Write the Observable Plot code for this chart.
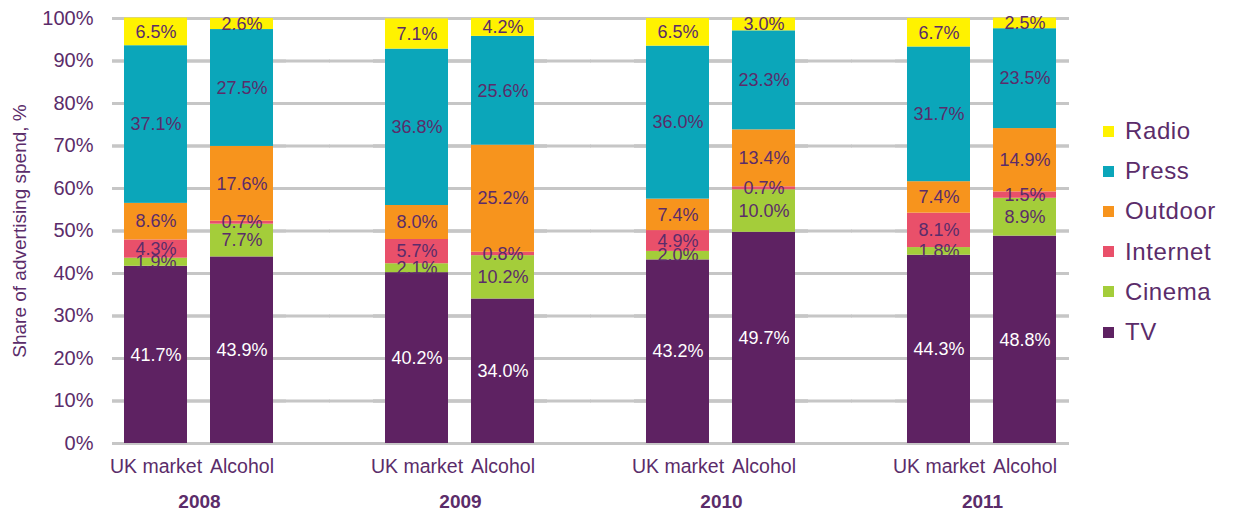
<!DOCTYPE html>
<html>
<head>
<meta charset="utf-8">
<script src="https://cdn.jsdelivr.net/npm/d3@7"></script>
<script src="https://cdn.jsdelivr.net/npm/@observablehq/plot@0.6"></script>
<style>
  body { margin: 0; background: #fff; font-family: "Liberation Sans", Arial, sans-serif; }
  #wrap { position: relative; width: 1233px; height: 515px; }
  #legend { position: absolute; left: 1103px; top: 111px; }
  .item { height: 40.2px; display: flex; align-items: center; font-size: 24px; color: #5b2c6a; letter-spacing: 0.6px; }
  .sw { width: 11px; height: 11px; margin-right: 11px; }
</style>
</head>
<body>
<div id="wrap"><div id="legend"></div></div>
<script>
const years = ["2008", "2009", "2010", "2011"];
const markets = ["UK market", "Alcohol"];
const media = ["TV", "Cinema", "Internet", "Outdoor", "Press", "Radio"];
const colors = ["#5e2262", "#a4cd3a", "#e9506a", "#f7941d", "#0ba6ba", "#fff200"];
const legendOrder = ["Radio", "Press", "Outdoor", "Internet", "Cinema", "TV"];

// Column order: 2008 UK, 2008 Alcohol, 2009 UK, 2009 Alcohol, 2010 UK, 2010 Alcohol, 2011 UK, 2011 Alcohol
const tv       = [41.7, 43.9, 40.2, 34.0, 43.2, 49.7, 44.3, 48.8];
const cinema   = [1.9, 7.7, 2.1, 10.2, 2.0, 10.0, 1.8, 8.9];
const internet = [4.3, 0.7, 5.7, 0.8, 4.9, 0.7, 8.1, 1.5];
const outdoor  = [8.6, 17.6, 8.0, 25.2, 7.4, 13.4, 7.4, 14.9];
const press    = [37.1, 27.5, 36.8, 25.6, 36.0, 23.3, 31.7, 23.5];
const radio    = [6.5, 2.6, 7.1, 4.2, 6.5, 3.0, 6.7, 2.5];
const yTicks = [0, 10, 20, 30, 40, 50, 60, 70, 80, 90, 100];

const series = {TV: tv, Cinema: cinema, Internet: internet, Outdoor: outdoor, Press: press, Radio: radio};
const rows = [];
years.forEach((year, i) => markets.forEach((market, j) => {
  const k = i * 2 + j;
  media.forEach(m => rows.push({year, market, media: m, value: series[m][k]}));
}));
// gridline rows per facet (extended into the gaps between facets so they look continuous)
const gridRight = years.slice(0, -1).flatMap(year => yTicks.map(v => ({year, v})));
const gridLeft = years.slice(1).flatMap(year => yTicks.map(v => ({year, v})));

const txt = "#5b2c6a";
const fmt = d => d.value.toFixed(1) + "%";

const chart = Plot.plot({
  width: 1233,
  height: 515,
  marginTop: 18,
  marginBottom: 72,
  marginLeft: 110,
  marginRight: 162,
  style: {fontFamily: "'Liberation Sans', Arial, sans-serif", color: txt, background: "white"},
  fx: {domain: years, paddingInner: 0.332, paddingOuter: 0, label: null},
  x: {domain: markets, paddingInner: 0.267, paddingOuter: 0.135, label: null},
  y: {domain: [0, 100], label: null},
  color: {domain: media, range: colors},
  marks: [
    Plot.ruleY(yTicks, {stroke: "#c6c6c6", strokeWidth: 3}),
    Plot.ruleY(gridRight, {fx: "year", y: "v", stroke: "#c6c6c6", strokeWidth: 3, insetRight: -44}),
    Plot.ruleY(gridLeft, {fx: "year", y: "v", stroke: "#c6c6c6", strokeWidth: 3, insetLeft: -44}),
    Plot.barY(rows, Plot.stackY({fx: "year", x: "market", y: "value", z: "media", fill: "media", order: media})),
    Plot.text(rows, Plot.stackY({fx: "year", x: "market", y: "value", z: "media", order: media,
      text: d => d.media === "TV" ? "" : fmt(d), fill: txt, fontSize: 18})),
    Plot.text(rows, Plot.stackY({fx: "year", x: "market", y: "value", z: "media", order: media,
      text: d => d.media === "TV" ? fmt(d) : "", fill: "white", fontSize: 18})),
    Plot.axisY({ticks: yTicks, tickFormat: d => d + "%", tickSize: 0, tickPadding: 19, fontSize: 20,
      label: "Share of advertising spend, %", labelAnchor: "center", labelOffset: 100, labelArrow: "none"}),
    Plot.axisX({tickSize: 0, tickPadding: 16, fontSize: 19.5, label: null}),
    Plot.axisFx({anchor: "bottom", tickSize: 0, tickPadding: 51, fontSize: 19, fontWeight: "bold", label: null})
  ]
});
chart.style.position = "absolute";
chart.style.left = "0";
chart.style.top = "0";
const wrap = document.getElementById("wrap");
wrap.insertBefore(chart, wrap.firstChild);
chart.querySelectorAll("text").forEach(t => {
  if (t.textContent.startsWith("Share of")) t.setAttribute("font-size", "19");
});

const legend = document.getElementById("legend");
legendOrder.forEach(m => {
  const it = document.createElement("div");
  it.className = "item";
  const sw = document.createElement("div");
  sw.className = "sw";
  sw.style.background = colors[media.indexOf(m)];
  it.appendChild(sw);
  it.appendChild(document.createTextNode(m));
  legend.appendChild(it);
});
</script>
</body>
</html>
